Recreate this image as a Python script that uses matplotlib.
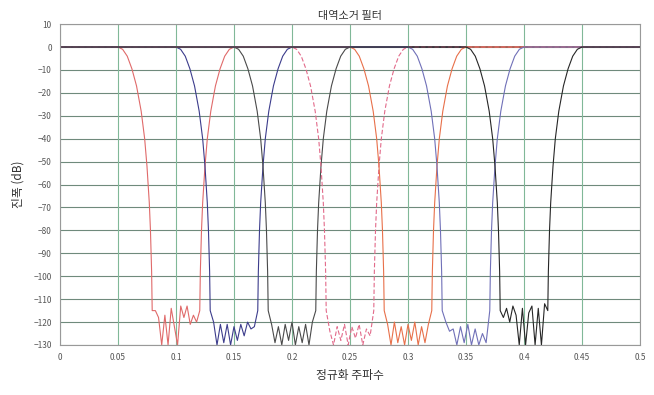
import numpy as np
import matplotlib
matplotlib.use("Agg")
import matplotlib.pyplot as plt

plt.rcParams['font.family'] = ['Noto Sans CJK KR', 'DejaVu Sans']

# ---- data ----
# lower passband edge of each band-stop filter (normalized frequency)
band_edges = [0.05, 0.10, 0.15, 0.20, 0.25, 0.30, 0.35]
band_width = 0.10
# transition profile: offset from passband edge -> attenuation (dB)
edge_offsets = [0.0, 0.004, 0.008, 0.012, 0.016, 0.020, 0.023, 0.025, 0.027, 0.028, 0.029, 0.0295]
edge_db = [0.0, -1.0, -4.0, -9.5, -17.0, -28.0, -40.0, -52.0, -68.0, -80.0, -98.0, -115.0]
# stop-band ripple of each filter (dB), spread across the stop band
ripples = [
    [-115, -118, -130, -117, -130, -114, -122, -130, -113, -118, -113, -121, -117, -120],
    [-120, -130, -121, -129, -121, -130, -122, -128, -121, -126, -120, -123, -122],
    [-121, -129, -122, -130, -121, -128, -120, -130, -122, -129, -121, -130, -120],
    [-124, -130, -122, -128, -121, -130, -122, -127, -121, -130, -123, -126],
    [-121, -130, -120, -129, -122, -130, -121, -128, -120, -130, -122, -129, -121],
    [-120, -124, -123, -130, -122, -129, -121, -130, -123, -130, -125, -129],
    [-118, -114, -120, -113, -117, -130, -114, -130, -116, -113, -130, -114, -130, -112],
]
colors = ['#e06a6a', '#3c3c8c', '#4a4a4a', '#e26a8a', '#e8704a', '#7070b8', '#262626']
styles = ['-', '-', '-', '--', '-', '-', '-']
x_ticks = [0, 0.05, 0.1, 0.15, 0.2, 0.25, 0.3, 0.35, 0.4, 0.45, 0.5]
x_tick_labels = ['0', '0.05', '0.1', '0.15', '0.2', '0.25', '0.3', '0.35', '0.4', '0.45', '0.5']
y_ticks = list(range(10, -131, -10))

fig = plt.figure(figsize=(6.54, 3.95), dpi=100)
ax = fig.add_axes([0.0917, 0.1266, 0.8869, 0.8124])

eo = np.array(edge_offsets)
ed = np.array(edge_db)
for f0, rip, c, ls in zip(band_edges, ripples, colors, styles):
    f1 = f0 + band_width
    s0 = f0 + eo[-1]
    s1 = f1 - eo[-1]
    fr = np.linspace(s0, s1, len(rip) + 2)[1:-1]
    freq = np.concatenate([[0.0], f0 + eo, fr, (f1 - eo)[::-1], [0.5]])
    db = np.concatenate([[0.0], ed, rip, ed[::-1], [0.0]])
    ax.plot(freq, db, color=c, lw=0.8, ls=ls, dashes=(4, 2) if ls == '--' else (None, None))

ax.set_xlim(0, 0.5)
ax.set_ylim(-130, 10)
ax.set_xticks(x_ticks)
ax.set_xticklabels(x_tick_labels)
ax.set_yticks(y_ticks)
ax.tick_params(length=0, labelsize=6, colors='#555555', pad=6)
ax.grid(False)
for yv in y_ticks:
    ax.axhline(yv, color='#6f8a7c', lw=0.8, zorder=0)
for xv in x_ticks:
    ax.axvline(xv, color='#80b898', lw=0.8, zorder=0)
for sp in ax.spines.values():
    sp.set_color('#999999')
    sp.set_linewidth(0.8)

ax.set_title('대역소거 필터', fontsize=8, color='#333333', pad=4)
ax.set_xlabel('정규화 주파수', fontsize=8.5, color='#333333', labelpad=5)
ax.set_ylabel('진폭 (dB)', fontsize=8.5, color='#333333', labelpad=6)

fig.savefig('out.png', dpi=100)
